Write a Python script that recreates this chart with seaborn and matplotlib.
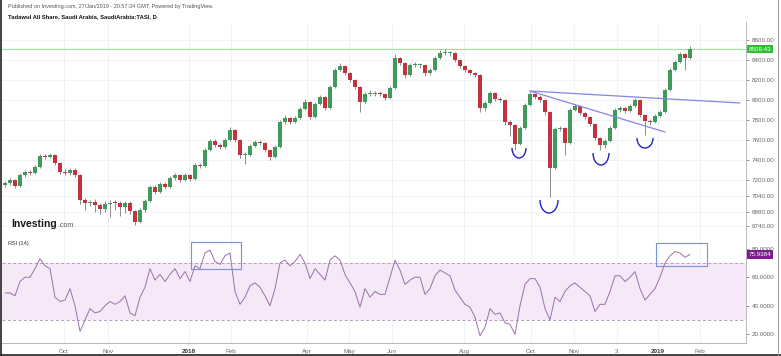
import numpy as np
import pandas as pd
import matplotlib
matplotlib.use("Agg")
import matplotlib.pyplot as plt
import seaborn as sns
from matplotlib.patches import Arc, Rectangle
from matplotlib.transforms import blended_transform_factory

# TASI daily, sampled roughly every 2-3 sessions (Aug 2017 - Jan 2019)
closes = [7170, 7200, 7140, 7250, 7280, 7270, 7330, 7440, 7430, 7450,
          7370, 7280, 7270, 7300, 7250, 7000, 6970, 6980, 6950, 6910,
          6960, 6975, 6970, 6930, 6970, 6890, 6780, 6900, 6990, 7130,
          7080, 7160, 7130, 7220, 7250, 7200, 7250, 7210, 7350, 7340,
          7500, 7590, 7550, 7535, 7600, 7700, 7600, 7450, 7450, 7540,
          7580, 7570, 7500, 7430, 7530, 7780, 7820, 7780, 7820, 7910,
          7980, 7830, 7960, 8030, 7920, 8130, 8300, 8340, 8270, 8200,
          8130, 7980, 8060, 8060, 8070, 8060, 8020, 8120, 8420, 8370,
          8250, 8350, 8350, 8350, 8270, 8300, 8420, 8470, 8470, 8475,
          8400, 8340, 8300, 8270, 8250, 7920, 7970, 8070, 8010, 8000,
          7780, 7750, 7560, 7720, 7950, 8060, 8030, 8000, 7880, 7320,
          7710, 7720, 7570, 7900, 7940, 7870, 7830, 7760, 7620, 7550,
          7590, 7720, 7900, 7920, 7890, 7940, 8000, 7850, 7790, 7780,
          7840, 7880, 8100, 8300, 8380, 8460, 8420, 8509.43]
highs = [7190, 7220, 7210, 7270, 7300, 7300, 7350, 7460, 7460, 7470,
         7460, 7380, 7310, 7320, 7320, 7260, 7020, 7000, 7010, 6970,
         6990, 7000, 7000, 6990, 6990, 6990, 6900, 6920, 7010, 7150,
         7150, 7180, 7180, 7240, 7270, 7260, 7270, 7260, 7370, 7370,
         7520, 7610, 7610, 7570, 7620, 7730, 7710, 7610, 7480, 7560,
         7600, 7600, 7580, 7510, 7550, 7800, 7850, 7830, 7840, 7930,
         8010, 7990, 7980, 8050, 8040, 8150, 8320, 8370, 8350, 8280,
         8210, 8140, 8080, 8100, 8090, 8090, 8070, 8140, 8460, 8430,
         8380, 8370, 8380, 8370, 8360, 8320, 8440, 8500, 8510, 8490,
         8480, 8410, 8350, 8310, 8280, 8260, 7990, 8090, 8080, 8030,
         8010, 7800, 7760, 7740, 7970, 8080, 8070, 8050, 8010, 7890,
         7730, 7740, 7730, 7920, 7960, 7950, 7880, 7840, 7770, 7630,
         7610, 7740, 7920, 7940, 7930, 7960, 8020, 8010, 7860, 7810,
         7860, 7900, 8120, 8320, 8400, 8480, 8470, 8540]
lows = [7130, 7150, 7120, 7130, 7230, 7250, 7260, 7320, 7410, 7420,
        7350, 7260, 7250, 7250, 7230, 6960, 6900, 6940, 6880, 6860,
        6880, 6830, 6900, 6840, 6870, 6860, 6750, 6770, 6880, 6980,
        7060, 7070, 7110, 7120, 7200, 7180, 7190, 7190, 7200, 7320,
        7330, 7490, 7530, 7510, 7520, 7590, 7580, 7420, 7360, 7440,
        7530, 7550, 7480, 7400, 7420, 7520, 7760, 7760, 7770, 7810,
        7900, 7810, 7820, 7950, 7900, 7910, 8120, 8290, 8250, 8180,
        8110, 7880, 7970, 8040, 8040, 8040, 8000, 8010, 8110, 8350,
        8220, 8240, 8330, 8320, 8240, 8250, 8290, 8410, 8450, 8440,
        8380, 8320, 8280, 8250, 8230, 7880, 7890, 7960, 7990, 7980,
        7750, 7640, 7500, 7550, 7710, 7940, 8010, 7980, 7850, 7030,
        7310, 7690, 7450, 7560, 7890, 7850, 7810, 7740, 7600, 7500,
        7520, 7580, 7710, 7880, 7870, 7880, 7930, 7830, 7650, 7750,
        7770, 7830, 7870, 8090, 8290, 8370, 8300, 8410]
first_open = 7150

rsi = [49, 49, 47, 57, 60, 60, 66, 73, 68, 66,
       46, 43, 44, 52, 40, 22, 30, 38, 35, 36,
       40, 43, 41, 43, 47, 35, 33, 46, 53, 66,
       58, 62, 57, 62, 66, 59, 64, 57, 68, 66,
       77, 79, 71, 69, 75, 77, 50, 41, 46, 54,
       56, 53, 47, 40, 52, 70, 72, 68, 71, 76,
       70, 59, 66, 62, 58, 72, 75, 72, 62, 56,
       50, 39, 52, 46, 50, 48, 48, 60, 72, 65,
       55, 58, 60, 60, 48, 52, 61, 65, 63, 61,
       51, 46, 41, 39, 32, 19, 25, 38, 34, 35,
       28, 27, 20, 40, 55, 59, 59, 53, 38, 30,
       46, 43, 50, 54, 56, 53, 50, 47, 36, 41,
       41, 50, 61, 61, 57, 60, 64, 52, 44, 48,
       52, 60, 70, 75, 78, 77, 74, 75.9384]

# axis labels
price_ticks = [6740, 6880, 7040, 7200, 7400, 7600, 7800, 8000, 8200, 8400, 8600]
rsi_ticks = [20, 40, 60, 80]
month_tick_pos = [11.8, 20.6, 36.8, 45.2, 60.4, 68.8, 77.4, 91.8, 105.2, 113.8, 122.4, 130.6, 139.0]
month_labels = ["Oct", "Nov", "2018", "Feb", "Apr", "May", "Jun", "Aug", "Oct", "Nov", "3", "2019", "Feb"]

# chart drawings: trend lines (bar, price) and the "smile" marks under the lows (bar, width, depth)
trend_lines = [((105, 8090), (147, 7970)), ((105, 8090), (132, 7680))]
smiles = [(102.8, 2.8, 200), (108.8, 3.6, 260), (119.2, 3.2, 240), (128.0, 3.2, 200)]
rsi_boxes = [(37.2, 47.2, 65.8, 84.7), (130.2, 140.4, 67.9, 84.0)]

df = pd.DataFrame({"close": closes, "high": highs, "low": lows, "rsi": rsi})
df["open"] = [first_open] + closes[:-1]
df["bar"] = np.arange(len(df))
df["up"] = df["close"] >= df["open"]

sns.set_theme(style="white")
plt.rcParams["font.family"] = ["Liberation Sans", "DejaVu Sans"]

W, H = 781, 356
fig = plt.figure(figsize=(W / 100, H / 100), dpi=100)
fig.patch.set_facecolor("white")


def px_box(x0, y0, x1, y1):
    return [x0 / W, 1 - y1 / H, (x1 - x0) / W, (y1 - y0) / H]


ax = fig.add_axes(px_box(2, 22, 746, 236))
ax_rsi = fig.add_axes(px_box(2, 236, 746, 343), sharex=ax)

up_col, down_col, wick_col = "#3f9a5c", "#c4313f", "#8c8c8c"
grid_col = "#eef0f4"
axis_col = "#b8b8b8"
tick_col = "#666666"

# ---- price panel
for a in (ax, ax_rsi):
    for x in month_tick_pos:
        a.axvline(x, color=grid_col, lw=0.6, zorder=0)
for y in price_ticks:
    ax.axhline(y, color=grid_col, lw=0.6, zorder=0)

ax.vlines(df["bar"], df["low"], df["high"], color=wick_col, lw=0.7, zorder=2)
body_lo = df[["open", "close"]].min(axis=1)
body_h = (df["close"] - df["open"]).abs().clip(lower=6)
colors = np.where(df["up"], up_col, down_col)
ax.bar(df["bar"], body_h, bottom=body_lo, width=0.7, color=colors, linewidth=0, zorder=3)

last_close = closes[-1]
ax.axhline(last_close, color="#9fe09f", lw=0.8, zorder=1)

for (x0, y0), (x1, y1) in trend_lines:
    ax.plot([x0, x1], [y0, y1], color="#8585e6", lw=0.9, zorder=4)
for bar, w, depth in smiles:
    low = df.loc[int(round(bar)), "low"]
    ax.add_patch(Arc((bar, low - 30), w, depth, theta1=180, theta2=360,
                     color="#2323b8", lw=1.0, zorder=4))

ax.set_xlim(-0.6, 148.2)
ax.set_ylim(6640, 8780)
ax.yaxis.tick_right()
ax.set_yticks(price_ticks)
ax.set_yticklabels([f"{v:.2f}" for v in price_ticks])
ax.tick_params(axis="y", labelsize=4.5, colors=tick_col, length=2, width=0.5, pad=2, direction="out")
ax.tick_params(axis="x", bottom=False, labelbottom=False)
for side in ("top", "left"):
    ax.spines[side].set_visible(False)
ax.spines["right"].set_color(axis_col)
ax.spines["bottom"].set_color(axis_col)
for s in ("right", "bottom"):
    ax.spines[s].set_linewidth(0.7)

ytr = blended_transform_factory(ax.transAxes, ax.transData)
ax.text(1.004, last_close, f"{last_close:.2f}", transform=ytr, ha="left", va="center",
        fontsize=4.5, color="white",
        bbox=dict(boxstyle="square,pad=0.25", fc="#2dbf2d", ec="none"), clip_on=False, zorder=6)

# ---- RSI panel
ax_rsi.axhspan(30, 70, color="#f5e8f7", zorder=0, lw=0)
for y in (30, 70):
    ax_rsi.axhline(y, color="#b49cbb", lw=0.7, ls=(0, (3, 2.5)), zorder=1)
sns.lineplot(data=df, x="bar", y="rsi", ax=ax_rsi, color="#9d70aa", lw=0.7, zorder=3)
for x0, x1, y0, y1 in rsi_boxes:
    ax_rsi.add_patch(Rectangle((x0, y0), x1 - x0, y1 - y0, fill=False,
                               ec="#7d8fd3", lw=0.8, zorder=4))

ax_rsi.set_ylim(13.9, 88.9)
ax_rsi.set_xlabel("")
ax_rsi.set_ylabel("")
ax_rsi.yaxis.tick_right()
ax_rsi.set_yticks(rsi_ticks)
ax_rsi.set_yticklabels([f"{v:.4f}" for v in rsi_ticks])
ax_rsi.tick_params(axis="y", labelsize=4.5, colors=tick_col, length=2, width=0.5, pad=2, direction="out")
ax_rsi.set_xticks(month_tick_pos)
ax_rsi.set_xticklabels(month_labels)
ax_rsi.tick_params(axis="x", labelsize=4.5, colors=tick_col, length=2, width=0.5, pad=2, direction="out")
for lbl in ax_rsi.get_xticklabels():
    if lbl.get_text() in ("2018", "2019"):
        lbl.set_fontweight("bold")
        lbl.set_color("#333333")
for side in ("top", "left"):
    ax_rsi.spines[side].set_visible(False)
for s in ("right", "bottom"):
    ax_rsi.spines[s].set_color(axis_col)
    ax_rsi.spines[s].set_linewidth(0.7)

rtr = blended_transform_factory(ax_rsi.transAxes, ax_rsi.transData)
ax_rsi.text(1.004, rsi[-1], f"{rsi[-1]:.4f}", transform=rtr, ha="left", va="center",
            fontsize=4.5, color="white",
            bbox=dict(boxstyle="square,pad=0.25", fc="#7d1b8f", ec="none"), clip_on=False, zorder=6)

# ---- header / branding text
fig.text(8 / W, 1 - 6.5 / H, "Published on Investing.com, 27/Jan/2019 - 20:57:34 GMT, Powered by TradingView.",
         fontsize=4, color="#555555", va="center")
fig.text(8 / W, 1 - 17 / H, "Tadawul All Share, Saudi Arabia, SaudiArabia:TASI, D",
         fontsize=4.2, color="#111111", fontweight="bold", va="center")
fig.text(11 / W, 1 - 224 / H, "Investing", fontsize=7.5, fontweight="bold", color="#1a1a1a", va="center")
fig.text(58 / W, 1 - 225 / H, ".com", fontsize=5, color="#555555", va="center")
fig.text(8 / W, 1 - 243 / H, "RSI (14)", fontsize=4, color="#333333", va="center")

# screenshot frame
fig.add_artist(plt.Line2D([0.5 / W, 0.5 / W], [0, 1], color="#222222", lw=1.2))
fig.add_artist(plt.Line2D([0, 1], [0.8 / H, 0.8 / H], color="#222222", lw=1.2))
fig.add_artist(plt.Line2D([1 - 3.5 / W, 1 - 3.5 / W], [0, 1], color="#9a9a9a", lw=0.7))

fig.savefig("out.png", dpi=100, facecolor="white")
